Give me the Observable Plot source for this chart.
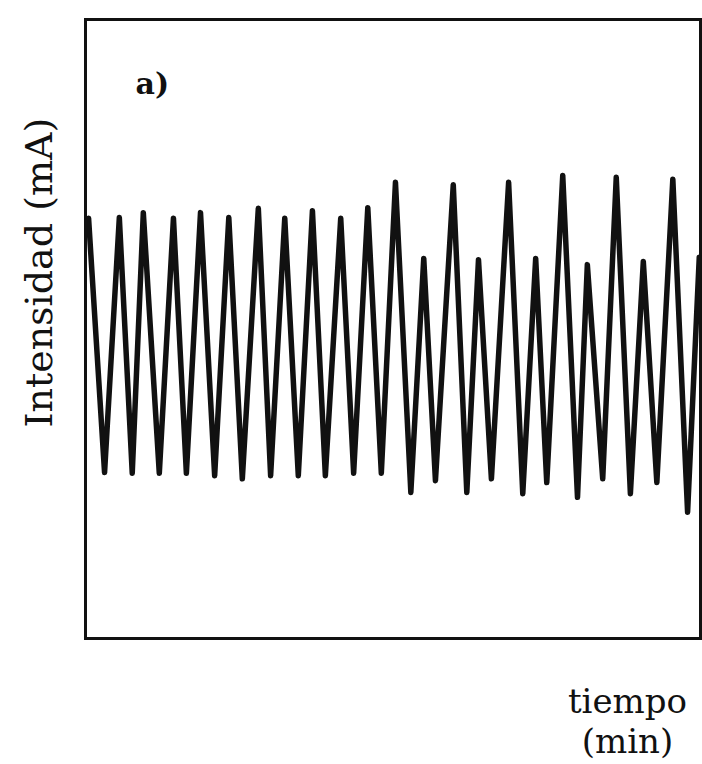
<!DOCTYPE html>
<html>
<head>
<meta charset="utf-8">
<script src="https://cdn.jsdelivr.net/npm/d3@7"></script>
<script src="https://cdn.jsdelivr.net/npm/@observablehq/plot@0.6"></script>
<style>
  html, body { margin: 0; padding: 0; background: #fff; }
  #chart svg { display: block; }
</style>
</head>
<body>
<div id="chart"></div>
<script>
// Time (arbitrary units, 0–100 across the frame)
const tiempo = [0.5, 3.1, 5.5, 7.6, 9.4, 12.0, 14.3, 16.4, 18.7, 21.0, 23.3, 25.5, 28.1, 30.1, 32.4, 34.6, 36.9, 39.0, 41.5, 43.6, 45.9, 48.1, 50.4, 52.9, 55.0, 56.9, 59.8, 62.0, 63.9, 66.0, 68.8, 71.1, 73.2, 75.0, 77.6, 80.0, 81.6, 84.1, 86.3, 88.6, 90.7, 92.9, 95.5, 97.9, 99.8];
// Current intensity (arbitrary units, 0–100 frame height)
const intensidad = [67.9, 26.8, 68.0, 26.7, 68.8, 26.7, 67.9, 26.7, 68.8, 26.3, 68.0, 25.8, 69.5, 26.3, 67.9, 26.3, 69.1, 26.3, 67.9, 26.7, 69.6, 26.7, 73.7, 23.6, 61.4, 25.5, 73.3, 23.6, 61.2, 25.8, 73.7, 23.4, 61.4, 25.2, 74.8, 22.8, 60.4, 25.8, 74.5, 23.4, 60.9, 25.2, 74.2, 20.4, 61.6];
const panelLabel = "a)";
const yLabel = "Intensidad (mA)";
const xLabel = "tiempo\n(min)";

const data = tiempo.map((t, i) => ({t, v: intensidad[i]}));
const serif = "'DejaVu Serif', 'Liberation Serif', serif";

const chart = Plot.plot({
  width: 702,
  height: 764,
  marginLeft: 85,
  marginRight: 2,
  marginTop: 19,
  marginBottom: 126,
  style: {fontFamily: serif, background: "#fff", color: "#111"},
  x: {domain: [0, 100], axis: null},
  y: {domain: [0, 100], axis: null},
  marks: [
    Plot.line(data, {x: "t", y: "v", stroke: "#111", strokeWidth: 5.5, strokeLinejoin: "round", strokeLinecap: "round"}),
    Plot.frame({stroke: "#111", strokeWidth: 3}),
    Plot.text([panelLabel], {frameAnchor: "top-left", dx: 50, dy: 53, text: d => d, fontSize: 30, fontWeight: "bold", textAnchor: "start", fill: "#111"}),
    Plot.text([{label: yLabel, x: -7.5, y: 59.1}], {x: "x", y: "y", rotate: -90, text: "label", fontSize: 38, fill: "#111", textAnchor: "middle"}),
    Plot.text([xLabel], {frameAnchor: "bottom-right", dx: -73, dy: 46, lineAnchor: "top", lineHeight: 1.18, text: d => d, fontSize: 34, textAnchor: "middle", fill: "#111"})
  ]
});
document.getElementById("chart").appendChild(chart);
</script>
</body>
</html>
